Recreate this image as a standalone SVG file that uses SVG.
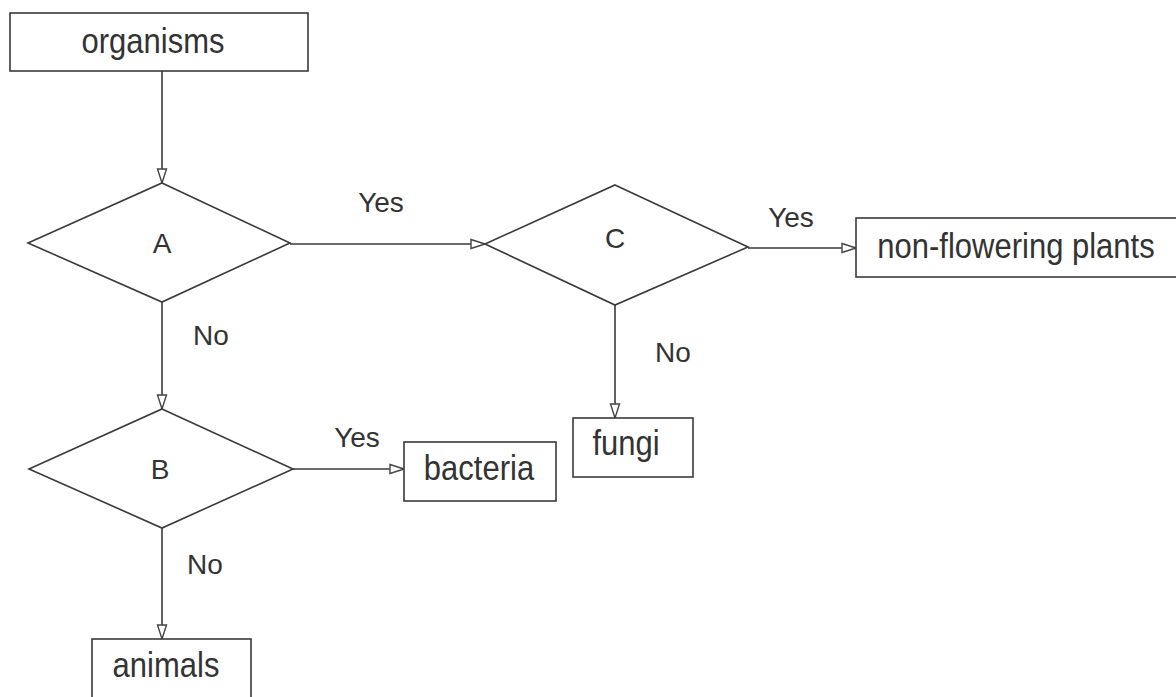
<svg xmlns="http://www.w3.org/2000/svg" width="1176" height="697" viewBox="0 0 1176 697">
<defs>
<marker id="arr" markerUnits="userSpaceOnUse" markerWidth="16" markerHeight="12" viewBox="0 0 16 12" refX="15" refY="6" orient="auto">
<polygon points="1,1.5 15,6 1,10.5" fill="#fff" stroke="#444" stroke-width="1.4"/>
</marker>
<style>
.shape{fill:#fff;stroke:#3a3a3a;stroke-width:1.6}
.conn{fill:none;stroke:#3a3a3a;stroke-width:1.6;marker-end:url(#arr)}
.t{font-family:"Liberation Sans",Arial,sans-serif;font-size:31px;fill:#333;text-anchor:middle}
.l{font-family:"Liberation Sans",Arial,sans-serif;font-size:28px;fill:#333;text-anchor:middle}
</style>
</defs>
<rect width="1176" height="697" fill="#fff"/>
<g id="connectors">
<line class="conn" x1="162" y1="71" x2="162" y2="183"/>
<line class="conn" x1="162" y1="302" x2="162" y2="409"/>
<line class="conn" x1="162" y1="528" x2="162" y2="639"/>
<line class="conn" x1="290" y1="244" x2="485" y2="244"/>
<line class="conn" x1="748" y1="248" x2="856" y2="248"/>
<line class="conn" x1="615" y1="305" x2="615" y2="418"/>
<line class="conn" x1="293" y1="469" x2="404" y2="469"/>
<text class="l" x="381" y="212">Yes</text>
<text class="l" x="791" y="227">Yes</text>
<text class="l" x="357" y="447">Yes</text>
<text class="l" x="211" y="345">No</text>
<text class="l" x="673" y="362">No</text>
<text class="l" x="205" y="574">No</text>
</g>
<g id="organisms">
<rect class="shape" x="10" y="13" width="298" height="58"/>
<text class="t" transform="translate(153 53) scale(1 1.12)">organisms</text>
</g>
<g id="A">
<polygon class="shape" points="162,183 290,243 162,302 28,243"/>
<text class="l" x="162" y="253">A</text>
</g>
<g id="C">
<polygon class="shape" points="615,185 748,247 615,305 485,244"/>
<text class="l" x="615" y="248">C</text>
</g>
<g id="B">
<polygon class="shape" points="162,409 293,469 162,528 29,469"/>
<text class="l" x="160" y="479">B</text>
</g>
<g id="nonflowering">
<rect class="shape" x="856" y="218" width="340" height="59"/>
<text class="t" transform="translate(1016 258) scale(1 1.12)">non-flowering plants</text>
</g>
<g id="fungi">
<rect class="shape" x="573" y="418" width="120" height="59"/>
<text class="t" transform="translate(626 455) scale(1 1.12)">fungi</text>
</g>
<g id="bacteria">
<rect class="shape" x="404" y="442" width="152" height="59"/>
<text class="t" transform="translate(479 480) scale(1 1.12)">bacteria</text>
</g>
<g id="animals">
<rect class="shape" x="92" y="639" width="159" height="80"/>
<text class="t" transform="translate(166 677) scale(1 1.12)">animals</text>
</g>
</svg>
